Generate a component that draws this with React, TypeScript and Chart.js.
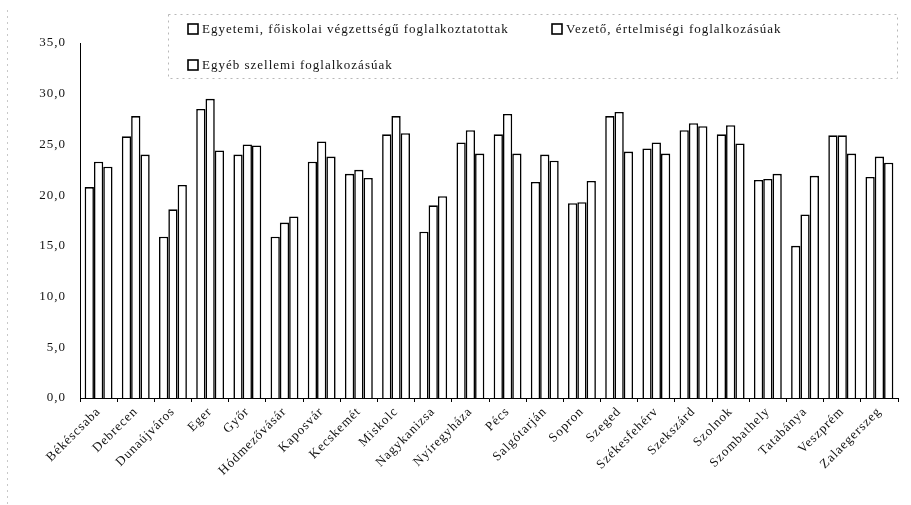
import { useEffect, useRef } from "react";
import { Chart, registerables } from "chart.js";

Chart.register(...registerables);

const cities = [
  "Békéscsaba", "Debrecen", "Dunaújváros", "Eger", "Győr", "Hódmezővásár",
  "Kaposvár", "Kecskemét", "Miskolc", "Nagykanizsa", "Nyíregyháza", "Pécs",
  "Salgótarján", "Sopron", "Szeged", "Székesfehérv", "Szekszárd", "Szolnok",
  "Szombathely", "Tatabánya", "Veszprém", "Zalaegerszeg",
];

const seriesNames = [
  "Egyetemi, főiskolai végzettségű foglalkoztatottak",
  "Vezető, értelmiségi foglalkozásúak",
  "Egyéb szellemi foglalkozásúak",
];

const egyetemi = [20.8, 25.8, 15.9, 28.5, 24.0, 15.9, 23.3, 22.1, 26.0, 16.4, 25.2, 26.0, 21.3, 19.2, 27.8, 24.6, 26.4, 26.0, 21.5, 15.0, 25.9, 21.8];
const vezeto = [23.3, 27.8, 18.6, 29.5, 25.0, 17.3, 25.3, 22.5, 27.8, 19.0, 26.4, 28.0, 24.0, 19.3, 28.2, 25.2, 27.1, 26.9, 21.6, 18.1, 25.9, 23.8];
const egyeb = [22.8, 24.0, 21.0, 24.4, 24.9, 17.9, 23.8, 21.7, 26.1, 19.9, 24.1, 24.1, 23.4, 21.4, 24.3, 24.1, 26.8, 25.1, 22.1, 21.9, 24.1, 23.2];

const yMin = 0;
const yMax = 35;
const yStep = 5;

const FONT = '"Liberation Serif", "Times New Roman", serif';

const boxLegend = {
  id: "boxLegend",
  beforeDraw(chart: any) {
    const ctx = chart.ctx;
    ctx.save();
    ctx.fillStyle = "#fff";
    ctx.fillRect(0, 0, chart.width, chart.height);
    ctx.setLineDash([2, 4]);
    ctx.strokeStyle = "#c8c8c8";
    ctx.lineWidth = 1;
    ctx.beginPath();
    ctx.moveTo(7.5, 10);
    ctx.lineTo(7.5, 505);
    ctx.stroke();
    ctx.restore();
    (ctx as any).letterSpacing = "1px";
  },
  afterDraw(chart: any) {
    const ctx = chart.ctx;
    ctx.save();
    ctx.setLineDash([2, 4]);
    ctx.strokeStyle = "#b8b8b8";
    ctx.lineWidth = 1;
    ctx.strokeRect(168.5, 14.5, 729, 64);
    ctx.setLineDash([]);
    const spots = [
      { x: 188, y: 29 },
      { x: 552, y: 29 },
      { x: 188, y: 65 },
    ];
    chart.data.datasets.forEach((ds: any, i: number) => {
      const p = spots[i];
      ctx.lineWidth = 1.6;
      ctx.strokeStyle = "#000";
      ctx.fillStyle = "#fff";
      ctx.fillRect(p.x, p.y - 5, 10, 10);
      ctx.strokeRect(p.x, p.y - 5, 10, 10);
      ctx.fillStyle = "#111";
      ctx.font = `13px ${FONT}`;
      (ctx as any).letterSpacing = "1px";
      ctx.textBaseline = "middle";
      ctx.textAlign = "left";
      ctx.fillText(ds.label, p.x + 14, p.y + 1);
    });
    ctx.restore();
  },
};

export default function App() {
  const ref = useRef<HTMLCanvasElement>(null);

  useEffect(() => {
    document.body.style.margin = "0";
    const canvas = ref.current!;
    const mk = (label: string, data: number[]) => ({
      label,
      data,
      backgroundColor: "#ffffff",
      borderColor: "#000000",
      borderWidth: 1.6,
      categoryPercentage: 0.75,
      barPercentage: 1.0,
    });
    const chart = new Chart(canvas, {
      type: "bar",
      data: {
        labels: cities,
        datasets: [
          mk(seriesNames[0], egyetemi),
          mk(seriesNames[1], vezeto),
          mk(seriesNames[2], egyeb),
        ],
      },
      options: {
        animation: false,
        responsive: false,
        layout: { padding: { top: 43, right: 13, left: 0, bottom: 0 } },
        plugins: {
          legend: { display: false },
          tooltip: { enabled: false },
        },
        scales: {
          x: {
            offset: true,
            grid: {
              display: true,
              drawOnChartArea: false,
              drawTicks: true,
              tickLength: 4,
              offset: true,
              color: "#000",
            },
            border: { display: true, color: "#000", width: 1 },
            ticks: {
              autoSkip: false,
              maxRotation: 45,
              minRotation: 45,
              padding: 2,
              color: "#111",
              font: { family: FONT, size: 13 },
            },
            afterFit: (s: any) => {
              s.height = 107;
            },
          },
          y: {
            min: yMin,
            max: yMax,
            ticks: {
              stepSize: yStep,
              padding: 14,
              color: "#111",
              font: { family: FONT, size: 13 },
              callback: (v: any) => Number(v).toFixed(1).replace(".", ","),
            },
            grid: { display: false, drawTicks: false },
            border: { display: true, color: "#000", width: 1 },
            afterFit: (s: any) => {
              s.width = 80;
            },
          },
        },
      },
      plugins: [boxLegend],
    });
    return () => chart.destroy();
  }, []);

  return (
    <div style={{ position: "absolute", left: 0, top: 0, width: 911, height: 505 }}>
      <canvas ref={ref} width={911} height={505} />
    </div>
  );
}
